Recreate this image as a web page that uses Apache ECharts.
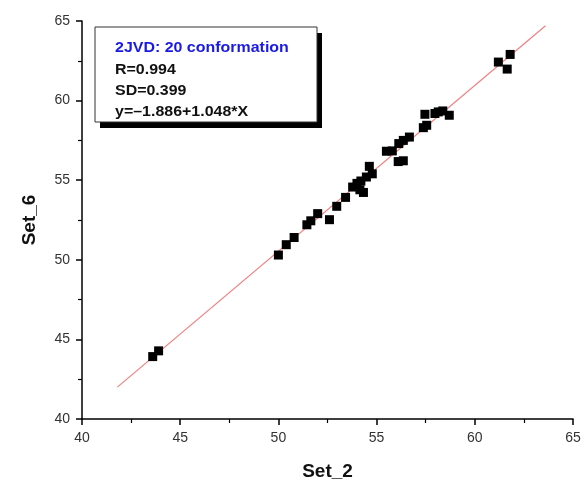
<!DOCTYPE html>
<html><head><meta charset="utf-8">
<script src="https://cdn.jsdelivr.net/npm/echarts@6/dist/echarts.min.js"></script>
<style>html,body{margin:0;padding:0;background:#fff}#c{width:585px;height:487px}</style>
</head><body><div id="c"></div>
<script>
var xTicks = [40, 45, 50, 55, 60, 65];
var yTicks = [40, 45, 50, 55, 60, 65];
var set2 = [43.6, 43.9, 50.0, 50.4, 50.8, 51.45, 51.65, 52.0, 52.6, 52.97, 53.42, 53.78, 54.0, 54.15, 54.33, 54.2, 54.48, 54.63, 54.78, 55.5, 55.8, 56.1, 56.36, 56.13, 56.36, 56.67, 57.38, 57.55, 57.46, 57.97, 58.14, 58.37, 58.7, 61.2, 61.8, 61.65];
var set6 = [43.92, 44.28, 50.3, 50.95, 51.4, 52.2, 52.45, 52.9, 52.52, 53.36, 53.92, 54.57, 54.8, 54.4, 54.23, 54.95, 55.2, 55.87, 55.4, 56.82, 56.84, 56.17, 56.22, 57.3, 57.5, 57.71, 58.3, 58.45, 59.14, 59.19, 59.29, 59.35, 59.08, 62.42, 62.9, 61.98];
var fitX = [41.8, 63.6];
var fitY = [42.0, 64.7];
var boxLines = ["2JVD: 20 conformation", "R=0.994", "SD=0.399", "y=–1.886+1.048*X"];
var xName = "Set_2", yName = "Set_6";

var pts = set2.map(function(x, i){ return [x, set6[i]]; });
var fit = fitX.map(function(x, i){ return [x, fitY[i]]; });
var chart = echarts.init(document.getElementById('c'), null, {renderer:'canvas'});
var FONT = 'Liberation Sans, Arial, sans-serif';
var axisCommon = {
  type: 'value', min: 40, max: 65, interval: 5,
  axisLine: {show: true, onZero: false, lineStyle: {color: '#000', width: 1.5}},
  axisTick: {show: true, inside: false, length: 6, lineStyle: {color: '#000', width: 1.5}},
  minorTick: {show: true, splitNumber: 2, length: 4, lineStyle: {color: '#000', width: 1.2}},
  splitLine: {show: false},
  axisLabel: {color: '#333', fontSize: 14, fontFamily: FONT},
  nameTextStyle: {color: '#111', fontSize: 19, fontWeight: 'bold', fontFamily: FONT}
};
var tf = 'bold 14px "Liberation Sans", Arial, sans-serif';
function boxText(i, y, color){
  return {type: 'text', x: 115, y: y, scaleX: 1.14, z: 12,
    style: {text: boxLines[i], fill: color, font: tf, textVerticalAlign: 'middle', verticalAlign: 'middle'}};
}
chart.setOption({
  animation: false,
  grid: {left: 82, right: 12, top: 21, bottom: 68, containLabel: false},
  xAxis: Object.assign({}, axisCommon, {name: xName, nameLocation: 'middle', nameGap: 43,
    axisLabel: Object.assign({}, axisCommon.axisLabel, {margin: 12})}),
  yAxis: Object.assign({}, axisCommon, {name: yName, nameLocation: 'middle', nameGap: 43, nameRotate: 90,
    axisLabel: Object.assign({}, axisCommon.axisLabel, {margin: 12})}),
  series: [
    {type: 'line', data: fit, symbol: 'none', lineStyle: {color: '#f08080', width: 1.2}, z: 2},
    {type: 'scatter', data: pts, symbol: 'rect', symbolSize: 9, itemStyle: {color: '#000', opacity: 1}, z: 3}
  ],
  graphic: [
    {type: 'rect', shape: {x: 100, y: 33, width: 222, height: 95}, style: {fill: '#000'}, z: 10},
    {type: 'rect', shape: {x: 95, y: 27, width: 222, height: 95}, style: {fill: '#fff', stroke: '#333', lineWidth: 1}, z: 11},
    boxText(0, 48, '#1a1ae6'),
    boxText(1, 70, '#111'),
    boxText(2, 91, '#111'),
    boxText(3, 112, '#111')
  ]
});
</script></body></html>
